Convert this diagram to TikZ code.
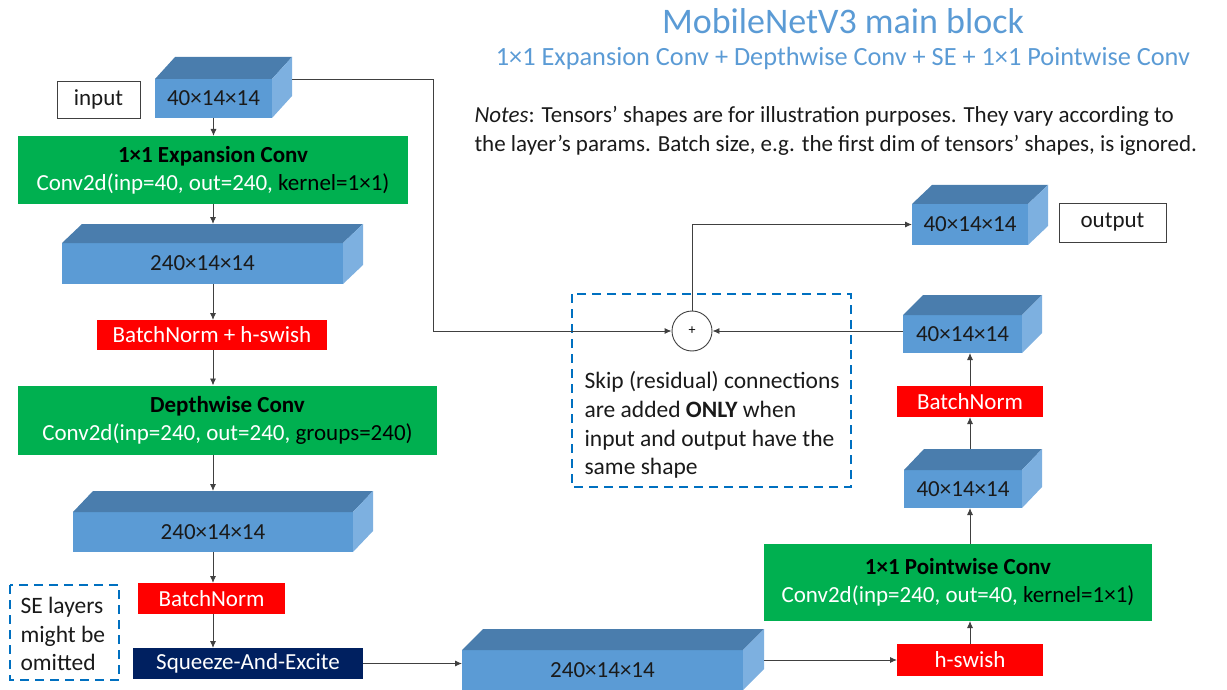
\documentclass[tikz,border=0pt]{standalone}
\usepackage{fontspec}
\setmainfont{Carlito}
\usetikzlibrary{arrows.meta,calc}

\definecolor{cubefront}{HTML}{5B9BD5}
\definecolor{cubetop}{HTML}{4A7DAD}
\definecolor{cubeside}{HTML}{7DB0E0}
\definecolor{convgreen}{HTML}{00B050}
\definecolor{normred}{HTML}{FF0000}
\definecolor{senavy}{HTML}{002060}
\definecolor{notebl}{HTML}{0070C0}
\definecolor{titlebl}{HTML}{5B9BD5}
\definecolor{wire}{HTML}{404040}
\definecolor{ink}{HTML}{1A1A1A}

\newcommand\lblfont{\fontsize{23}{27}\selectfont}

% tensor drawn as a box: front face node plus top and side faces
% #1 name, #2 left, #3 top, #4 right, #5 bottom, #6 depth x, #7 depth y, #8 label
\newcommand\tensor[8]{%
  \node[tensorface, minimum width={(#4-#2)*1pt}, minimum height={(#5-#3)*1pt}]
    (#1) at ({(#2+#4)/2},{(#3+#5)/2}) {#8};
  \fill[cubetop] (#1.north west) -- ++(#6,-#7) -- ($(#1.north east)+(#6,-#7)$)
    -- (#1.north east) -- cycle;
  \fill[cubeside] (#1.north east) -- ++(#6,-#7) -- ($(#1.south east)+(#6,-#7)$)
    -- (#1.south east) -- cycle;
  \coordinate (#1-back) at ($(#1.north west)+(#6,-#7)$);
  \coordinate (#1-rim) at ($(#1.north east)+(#6,0)$);
}

\tikzset{
  tensorface/.style={fill=cubefront, inner sep=0pt, outer sep=0pt, text=ink, font=\lblfont},
  convbox/.style={fill=convgreen, inner sep=0pt, outer sep=0pt, align=center,
    font=\fontsize{23}{28}\selectfont, text=black},
  normbox/.style={fill=normred, inner sep=0pt, outer sep=0pt, text=white, font=\lblfont},
  sebox/.style={fill=senavy, inner sep=0pt, outer sep=0pt, text=white, font=\lblfont},
  tagbox/.style={draw=wire, line width=0.8pt, fill=white, inner sep=0pt, text=ink, font=\lblfont},
  notebox/.style={draw=notebl, line width=2pt, dash pattern=on 9pt off 6pt},
  arr/.style={draw=wire, line width=0.9pt, -{Latex[length=7pt,width=6pt]}},
  sumnode/.style={circle, draw=wire, line width=0.9pt, fill=white, minimum size=40pt,
    inner sep=0pt, font=\fontsize{14}{14}\selectfont},
}

\begin{document}
\begin{tikzpicture}[x=1pt, y=-1pt]
\useasboundingbox (0,0) rectangle (1227,690);

% titles and notes
\node[text=titlebl, font=\fontsize{36}{40}\selectfont] (title) at (843,21) {MobileNetV3 main block};
\node[text=titlebl, font=\fontsize{26.3}{30}\selectfont] (subtitle) at (843,58)
  {1×1 Expansion Conv + Depthwise Conv + SE + 1×1 Pointwise Conv};
\node[anchor=west, align=left, text=ink, font=\fontsize{23}{28.5}\selectfont] (notes) at (471,131)
  {\textit{Notes}: Tensors’ shapes are for illustration purposes. They vary according to\\
   the layer’s params. Batch size, e.g. the first dim of tensors’ shapes, is ignored.};

% dashed annotation frames
\draw[notebox] (572,294) rectangle (851,487);
\node[anchor=west, align=left, text=ink, font=\fontsize{23.5}{28.6}\selectfont] (skipnote) at (581,425)
  {Skip (residual) connections\\are added \textbf{ONLY} when\\input and output have the\\same shape};
\draw[notebox] (10,585) rectangle (119,680);
\node[anchor=west, align=left, text=ink, font=\fontsize{23.5}{28.6}\selectfont] (senote) at (17,634)
  {SE layers\\might be\\omitted};

% left column
\node[tagbox, minimum width=83pt, minimum height=37pt] (inlbl) at (98.5,99.5) {input};
\tensor{in}{155}{79}{272}{118}{20}{22}{40×14×14}
\node[convbox, minimum width=390pt, minimum height=68pt] (e1) at (213,170)
  {\textbf{1×1 Expansion Conv}\\{\color{white}Conv2d(inp=40, out=240,} kernel=1×1)};
\tensor{c2}{62}{243}{343}{284}{20}{19}{240×14×14}
\node[normbox, minimum width=230pt, minimum height=30pt] (bn1) at (212,335) {BatchNorm + h-swish};
\node[convbox, minimum width=419pt, minimum height=69pt] (dw) at (227.5,420)
  {\textbf{Depthwise Conv}\\{\color{white}Conv2d(inp=240, out=240,} groups=240)};
\tensor{c3}{73}{512}{353}{552}{20}{21}{240×14×14}
\node[normbox, minimum width=147pt, minimum height=31pt] (bn2) at (211.5,598.5) {BatchNorm};
\node[sebox, minimum width=230pt, minimum height=31pt] (se) at (248,663.5) {Squeeze-And-Excite};

% bottom and right column
\tensor{c4}{462}{650}{743}{690}{21}{21}{240×14×14}
\node[normbox, minimum width=146pt, minimum height=32pt] (hs) at (970,660) {h-swish};
\node[convbox, minimum width=388pt, minimum height=77pt] (pw) at (958,582.5)
  {\textbf{1×1 Pointwise Conv}\\{\color{white}Conv2d(inp=240, out=40,} kernel=1×1)};
\tensor{r2}{904}{470}{1022}{508}{20}{21}{40×14×14}
\node[normbox, minimum width=146pt, minimum height=31pt] (bn3) at (970,401.5) {BatchNorm};
\tensor{r1}{903}{315}{1022}{353}{20}{20}{40×14×14}
\tensor{out}{912}{204}{1028}{245}{20}{19}{40×14×14}
\node[tagbox, minimum width=107pt, minimum height=39pt] (outlbl) at (1112.5,222.5) {output};

% residual sum
\node[sumnode] (plus) at (692,331) {+};
\coordinate (skipturn) at (433,0);

% main path
\draw[arr] (in.south) -- (in.south |- e1.north);
\draw[arr] (e1.south) -- (e1.south |- c2-back);
\draw[arr] (e1.south |- c2.south) -- (e1.south |- bn1.north);
\draw[arr] (e1.south |- bn1.south) -- (e1.south |- dw.north);
\draw[arr] (e1.south |- dw.south) -- (e1.south |- c3-back);
\draw[arr] (e1.south |- c3.south) -- (e1.south |- bn2.north);
\draw[arr] (e1.south |- bn2.south) -- (e1.south |- se.north);
\draw[arr] (se.east) -- (se.east -| c4.west);
\draw[arr] (c4-rim |- hs.west) -- (hs.west);
\draw[arr] (hs.north) -- (hs.north |- pw.south);
\draw[arr] (hs.north |- pw.north) -- (hs.north |- r2.south);
\draw[arr] (hs.north |- r2-back) -- (hs.north |- bn3.south);
\draw[arr] (bn3.north) -- (bn3.north |- r1.south);
\draw[arr] (r1.west |- plus.east) -- (plus.east);

% skip connection and output
\draw[arr] (in-rim) -| (skipturn |- plus.west) -- (plus.west);
\draw[arr] (plus.north) |- (out.west);
\end{tikzpicture}
\end{document}
